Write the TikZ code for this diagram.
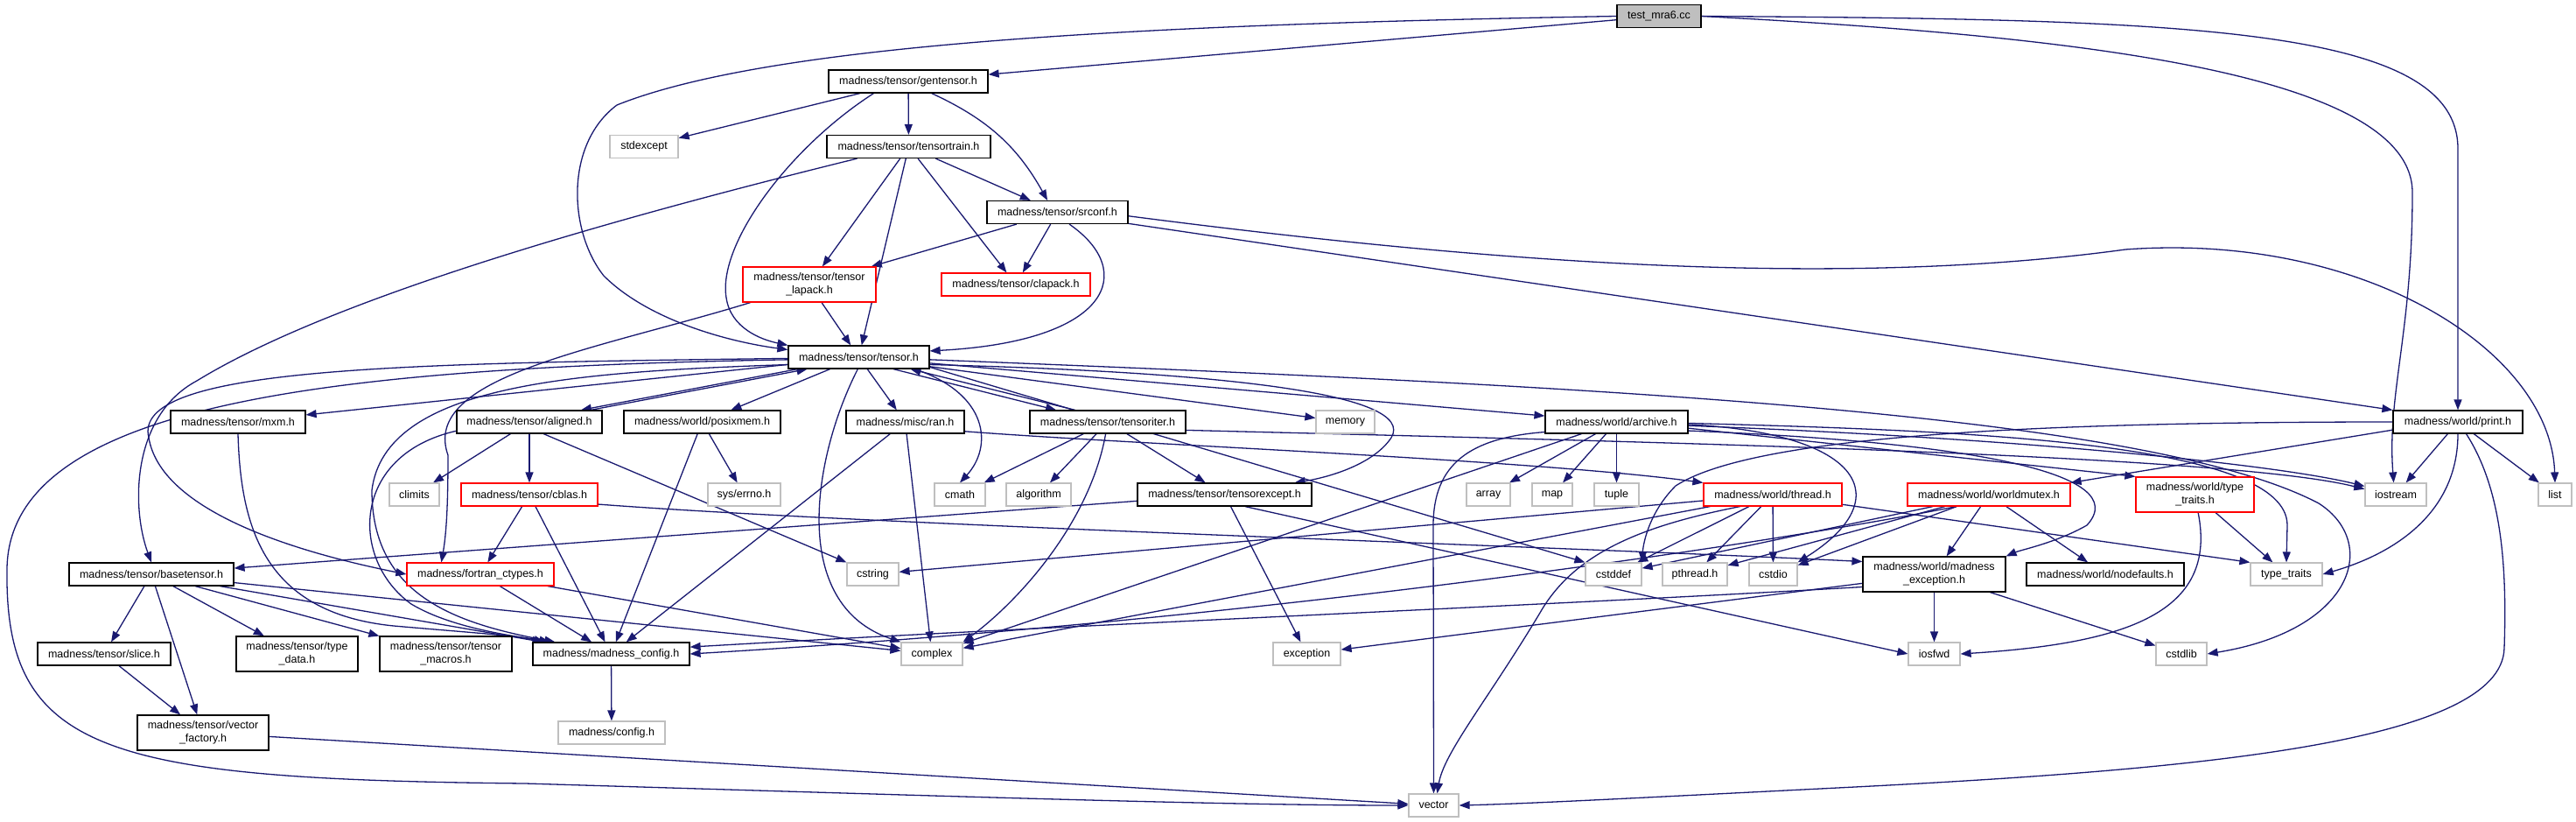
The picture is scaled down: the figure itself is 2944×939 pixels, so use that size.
\documentclass[tikz,border=0pt]{standalone}
\usepackage{fontspec}
\newfontfamily\doxfont{Liberation Sans}
\usetikzlibrary{arrows.meta}
\definecolor{edgeblue}{RGB}{25,25,112}
\definecolor{sysgrey}{RGB}{191,191,191}
\definecolor{testgrey}{RGB}{191,191,191}
\pgfdeclarelayer{edges}
\pgfsetlayers{edges,main}
\tikzset{
  hdr/.style={draw=black, line width=1.2pt, fill=white, minimum height=26pt, inner sep=0pt, align=center, font=\doxfont\fontsize{12.5pt}{15pt}\selectfont},
  sys/.style={hdr, draw=sysgrey},
  trunc/.style={hdr, draw=red},
  twoline/.style={minimum height=40pt},
  inc/.style={draw=edgeblue, line width=1.3pt, -{Triangle[length=12pt,width=9pt]}},
}
\begin{document}
\begin{tikzpicture}[x=1pt, y=-1pt]
\useasboundingbox (0,0) rectangle (2944,939);
\node[hdr, fill=testgrey, minimum width=96pt] (test) at (1896,18.5) {test\_mra6.cc};
\node[hdr, minimum width=182pt] (gentensor) at (1038,93) {madness/tensor/gentensor.h};
\node[sys, minimum width=78pt] (stdexcept) at (736,167.5) {stdexcept};
\node[hdr, minimum width=187pt] (tensortrain) at (1038.5,167.5) {madness/tensor/tensortrain.h};
\node[hdr, minimum width=161pt] (srconf) at (1208.5,242.5) {madness/tensor/srconf.h};
\node[trunc, twoline, minimum width=152pt] (lapack) at (925,325) {madness/tensor/tensor\\\_lapack.h};
\node[trunc, minimum width=170pt] (clapack) at (1161,325) {madness/tensor/clapack.h};
\node[hdr, minimum width=161pt] (tensor) at (981.5,408) {madness/tensor/tensor.h};
\node[hdr, minimum width=154pt] (mxm) at (272,482) {madness/tensor/mxm.h};
\node[hdr, minimum width=166pt] (aligned) at (605,482) {madness/tensor/aligned.h};
\node[hdr, minimum width=179pt] (posixmem) at (802.5,482) {madness/world/posixmem.h};
\node[hdr, minimum width=135pt] (ran) at (1034.5,482) {madness/misc/ran.h};
\node[hdr, minimum width=178pt] (tensoriter) at (1266,482) {madness/tensor/tensoriter.h};
\node[sys, minimum width=67pt] (memory) at (1537.5,482) {memory};
\node[hdr, minimum width=163pt] (archive) at (1847.5,482) {madness/world/archive.h};
\node[hdr, minimum width=148pt] (print) at (2809,482) {madness/world/print.h};
\node[sys, minimum width=57pt] (climits) at (473.5,565) {climits};
\node[trunc, minimum width=156pt] (cblas) at (605,565) {madness/tensor/cblas.h};
\node[sys, minimum width=83pt] (errno) at (850.5,565) {sys/errno.h};
\node[sys, minimum width=58pt] (cmath) at (1097,565) {cmath};
\node[sys, minimum width=74pt] (algorithm) at (1187,565) {algorithm};
\node[hdr, minimum width=199pt] (tensorexcept) at (1399.5,565) {madness/tensor/tensorexcept.h};
\node[sys, minimum width=50pt] (array) at (1701,565) {array};
\node[sys, minimum width=46pt] (map) at (1774,565) {map};
\node[sys, minimum width=51pt] (tuple) at (1847.5,565) {tuple};
\node[trunc, minimum width=158pt] (thread) at (2026,565) {madness/world/thread.h};
\node[trunc, minimum width=186pt] (worldmutex) at (2273,565) {madness/world/worldmutex.h};
\node[trunc, twoline, minimum width=135pt] (wtypetraits) at (2508.5,565) {madness/world/type\\\_traits.h};
\node[sys, minimum width=70pt] (iostream) at (2738,565) {iostream};
\node[sys, minimum width=38pt] (list) at (2920,565) {list};
\node[hdr, minimum width=188pt] (basetensor) at (173,656) {madness/tensor/basetensor.h};
\node[trunc, minimum width=168pt] (fortran) at (549,656) {madness/fortran\_ctypes.h};
\node[sys, minimum width=59pt] (cstring) at (997.5,656) {cstring};
\node[sys, minimum width=64pt] (cstddef) at (1844,656) {cstddef};
\node[sys, minimum width=74pt] (pthread) at (1937,656) {pthread.h};
\node[sys, minimum width=55pt] (cstdio) at (2026.5,656) {cstdio};
\node[hdr, twoline, minimum width=163pt] (mexcept) at (2210.5,656) {madness/world/madness\\\_exception.h};
\node[hdr, minimum width=180pt] (nodefaults) at (2406,656) {madness/world/nodefaults.h};
\node[sys, minimum width=82pt] (typetraits) at (2613,656) {type\_traits};
\node[hdr, minimum width=152pt] (slice) at (119,747) {madness/tensor/slice.h};
\node[hdr, twoline, minimum width=139pt] (typedata) at (339.5,747) {madness/tensor/type\\\_data.h};
\node[hdr, twoline, minimum width=151pt] (macros) at (509.5,747) {madness/tensor/tensor\\\_macros.h};
\node[hdr, minimum width=179pt] (mconfig) at (698.5,747) {madness/madness\_config.h};
\node[sys, minimum width=70pt] (complex) at (1065,747) {complex};
\node[sys, minimum width=77pt] (exception) at (1493.5,747) {exception};
\node[sys, minimum width=59pt] (iosfwd) at (2210.5,747) {iosfwd};
\node[sys, minimum width=58pt] (cstdlib) at (2493,747) {cstdlib};
\node[hdr, twoline, minimum width=150pt] (vfactory) at (232,837) {madness/tensor/vector\\\_factory.h};
\node[sys, minimum width=122pt] (config) at (699,837) {madness/config.h};
\node[sys, minimum width=57pt] (vector) at (1638.5,920) {vector};
\begin{pgfonlayer}{edges}
\draw[inc] (test) -- (gentensor);
\draw[inc] (test.west) .. controls (1300,28) and (880,50) .. (705,120) .. controls (645,165) and (650,265) .. (690,315) .. controls (740,365) and (830,390) .. (tensor.174);
\draw[inc] (test.east) .. controls (2500,22) and (2809,30) .. (2809,170) -- (print.north);
\draw[inc] (test.east) .. controls (2350,40) and (2757,80) .. (2757,220) .. controls (2757,380) and (2728,450) .. (iostream.100);
\draw[inc] (gentensor) -- (stdexcept);
\draw[inc] (gentensor) -- (tensortrain);
\draw[inc] (gentensor.-27) to[bend left=18] (srconf.130);
\draw[inc] (gentensor.199) .. controls (900,170) and (820,280) .. (830,340) .. controls (835,375) and (870,388) .. (tensor.north west);
\draw[inc] (tensortrain.193) .. controls (700,250) and (380,340) .. (225,435) .. controls (150,475) and (150,580) .. (basetensor.north);
\draw[inc] (tensortrain) -- (lapack);
\draw[inc] (tensortrain) -- (tensor);
\draw[inc] (tensortrain) -- (clapack);
\draw[inc] (tensortrain) -- (srconf);
\draw[inc] (srconf) -- (lapack);
\draw[inc] (srconf) -- (clapack);
\draw[inc] (srconf.315) .. controls (1300,310) and (1270,390) .. (tensor.5);
\draw[inc] (srconf.-9) -- (print.north west);
\draw[inc] (srconf.-3) .. controls (1700,300) and (2100,330) .. (2429,285) .. controls (2700,265) and (2915,400) .. (list.north);
\draw[inc] (lapack) -- (tensor);
\draw[inc] (lapack.197) .. controls (680,400) and (480,430) .. (512,520) .. controls (512,580) and (510,610) .. ([xshift=40pt]fortran.north west);
\draw[inc] (tensor) -- (mxm);
\draw[inc] (tensor.191) -- (aligned.13);
\draw[inc] (aligned.11) -- (tensor.193);
\draw[inc] (tensor) -- (posixmem);
\draw[inc] (tensor) -- (ran);
\draw[inc] (tensor.-19) -- (tensoriter.167);
\draw[inc] (tensoriter.160) -- (tensor.-13);
\draw[inc] (tensor) -- (memory);
\draw[inc] (tensor) -- (archive);
\draw[inc] (tensor.-12) .. controls (1130,450) and (1135,510) .. (cmath.north);
\draw[inc] (tensor.-6) .. controls (1400,425) and (1620,450) .. (1590,500) .. controls (1570,530) and (1520,545) .. ([xshift=-20pt]tensorexcept.north east);
\draw[inc] (tensor.-2) .. controls (1800,440) and (2450,470) .. (2650,575) .. controls (2720,620) and (2690,720) .. (cstdlib.east);
\draw[inc] (tensor.-8) -- (cstddef.north west);
\draw[inc] (tensor.-95) .. controls (930,520) and (900,690) .. (complex.north west);
\draw[inc] (tensor.182) .. controls (380,420) and (10,460) .. (8,650) .. controls (5,860) and (120,890) .. (600,895) .. controls (1100,910) and (1400,920) .. (vector.west);
\draw[inc] (tensor.181) .. controls (450,415) and (150,420) .. (170,500) .. controls (185,590) and (360,635) .. (fortran.west);
\draw[inc] (tensor.186) .. controls (650,425) and (440,440) .. (425,560) .. controls (425,680) and (520,712) .. ([xshift=26pt]mconfig.north west);
\draw[inc] (mxm.south) .. controls (275,600) and (300,700) .. (450,715) .. controls (530,722) and (590,726) .. ([xshift=14pt]mconfig.north west);
\draw[inc] (aligned.187) .. controls (400,520) and (400,640) .. (470,690) .. controls (520,720) and (600,728) .. ([xshift=20pt]mconfig.north west);
\draw[inc] (aligned) -- (climits);
\draw[inc] (aligned) -- (cblas);
\draw[inc] (aligned.-40) -- (cstring.north west);
\draw[inc] (posixmem) -- (errno);
\draw[inc] (posixmem) -- (mconfig);
\draw[inc] (ran) -- (mconfig);
\draw[inc] (ran) -- (complex);
\draw[inc] (ran.-9) .. controls (1300,508) and (1750,525) .. (thread.north west);
\draw[inc] (tensoriter) -- (cmath);
\draw[inc] (tensoriter) -- (algorithm);
\draw[inc] (tensoriter) -- (tensorexcept);
\draw[inc] (tensoriter.-100) .. controls (1245,600) and (1160,690) .. (complex.north east);
\draw[inc] (tensoriter.-6) .. controls (1900,505) and (2550,520) .. (iostream.170);
\draw[inc] (archive) -- (array);
\draw[inc] (archive) -- (map);
\draw[inc] (archive) -- (tuple);
\draw[inc] (archive) -- (complex);
\draw[inc] (archive.188) .. controls (1680,500) and (1638,530) .. (1638,600) -- (vector.north);
\draw[inc] (archive.-3) .. controls (2300,500) and (2600,530) .. (iostream.165);
\draw[inc] (archive.-5) -- (wtypetraits.north west);
\draw[inc] (archive.-1) .. controls (2250,492) and (2614,505) .. (2614,600) -- (typetraits.north);
\draw[inc] (archive.-7) .. controls (2250,505) and (2440,540) .. (2385,600) .. controls (2350,620) and (2310,628) .. (mexcept.north east);
\draw[inc] (archive.-2) .. controls (2130,495) and (2170,570) .. (cstdio.north east);
\draw[inc] (print) -- (iostream);
\draw[inc] (print) -- (list);
\draw[inc] (print.187) -- (worldmutex.north east);
\draw[inc] (print.south) .. controls (2809,580) and (2745,630) .. (typetraits.east);
\draw[inc] (print.-55) .. controls (2860,560) and (2865,650) .. (2862,740) .. controls (2860,850) and (2500,880) .. (2100,900) .. controls (1900,910) and (1750,918) .. (vector.east);
\draw[inc] (print.west) .. controls (2300,482) and (2000,500) .. (1915,555) .. controls (1885,585) and (1878,620) .. (cstddef.north east);
\draw[inc] (thread) -- (cstddef);
\draw[inc] (thread) -- (pthread);
\draw[inc] (thread) -- (cstdio);
\draw[inc] (thread) -- (cstring);
\draw[inc] (thread) -- (complex);
\draw[inc] (thread) -- (typetraits.north west);
\draw[inc] (thread.200) .. controls (1880,600) and (1800,630) .. (1760,700) .. controls (1700,800) and (1650,860) .. ([xshift=4pt]vector.north);
\draw[inc] (worldmutex) -- (cstddef);
\draw[inc] (worldmutex) -- (pthread);
\draw[inc] (worldmutex) -- (cstdio);
\draw[inc] (worldmutex) -- (mexcept);
\draw[inc] (worldmutex) -- (nodefaults);
\draw[inc] (worldmutex.200) .. controls (2080,610) and (1500,705) .. (mconfig.east);
\draw[inc] (wtypetraits) -- (typetraits);
\draw[inc] (wtypetraits.-80) .. controls (2535,700) and (2430,735) .. (iosfwd.east);
\draw[inc] (mexcept) -- (iosfwd);
\draw[inc] (mexcept) -- (cstdlib);
\draw[inc] (mexcept) -- (exception);
\draw[inc] (mexcept.190) .. controls (1800,690) and (1200,715) .. (mconfig.5);
\draw[inc] (cblas) -- (fortran);
\draw[inc] (cblas) -- (mconfig);
\draw[inc] (cblas.-8) .. controls (1000,600) and (1800,625) .. (mexcept.170);
\draw[inc] (basetensor) -- (slice);
\draw[inc] (basetensor) -- (vfactory);
\draw[inc] (basetensor) -- (typedata);
\draw[inc] (basetensor) -- (macros);
\draw[inc] (basetensor) -- ([xshift=12pt]mconfig.north west);
\draw[inc] (basetensor) -- (complex);
\draw[inc] (slice) -- (vfactory);
\draw[inc] (vfactory) -- (vector);
\draw[inc] (fortran) -- (mconfig);
\draw[inc] (fortran) -- (complex);
\draw[inc] (mconfig) -- (config);
\draw[inc] (tensorexcept) -- (basetensor);
\draw[inc] (tensorexcept) -- (exception);
\draw[inc] (tensorexcept.-30) -- (iosfwd.west);
\end{pgfonlayer}
\end{tikzpicture}
\end{document}
